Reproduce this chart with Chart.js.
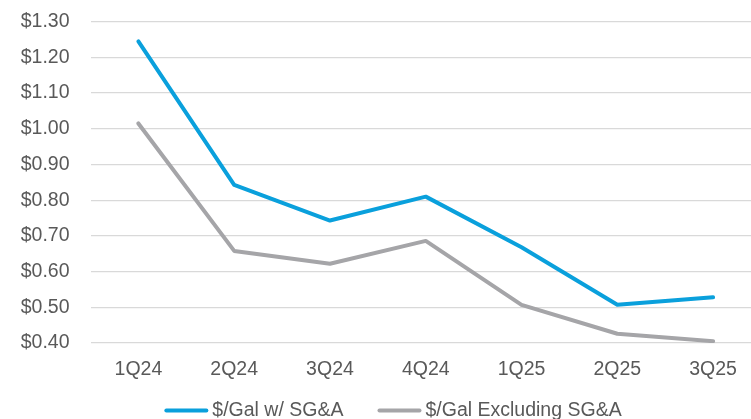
<!DOCTYPE html>
<html>
<head>
<meta charset="utf-8">
<script src="https://cdn.jsdelivr.net/npm/chart.js@4/dist/chart.umd.min.js"></script>
<style>
  html, body { margin: 0; padding: 0; background: #ffffff; overflow: hidden; }
  #wrap { position: relative; width: 762px; height: 419px; }
</style>
</head>
<body>
<div id="wrap"><canvas id="chart"></canvas></div>
<script>
// Quarterly cost per gallon
const quarters = ['1Q24', '2Q24', '3Q24', '4Q24', '1Q25', '2Q25', '3Q25'];
const perGalWithSGA = [1.245, 0.843, 0.743, 0.810, 0.668, 0.507, 0.528];
const perGalExclSGA = [1.015, 0.658, 0.622, 0.686, 0.507, 0.426, 0.405];
const seriesNames = ['$/Gal w/ SG&A', '$/Gal Excluding SG&A'];

const TEXT = '#595959';
const FONT = { family: '"Liberation Sans", Arial, sans-serif', size: 19.5 };

// Legend drawn under the axis: short thick line followed by the series name
const bottomLegend = {
  id: 'bottomLegend',
  afterDraw(chart) {
    const ctx = chart.ctx;
    const lineLen = 44, gapText = 4, gapItem = 34, y = 410.5, centerX = 393;
    ctx.save();
    ctx.font = `${FONT.size}px ${FONT.family}`;
    const items = chart.data.datasets.map(ds => ({
      label: ds.label, color: ds.borderColor, w: ctx.measureText(ds.label).width
    }));
    let total = 0;
    items.forEach((it, i) => { total += lineLen + gapText + it.w + (i ? gapItem : 0); });
    let x = centerX - total / 2;
    items.forEach((it, i) => {
      if (i) x += gapItem;
      ctx.strokeStyle = it.color;
      ctx.lineWidth = 4;
      ctx.lineCap = 'round';
      ctx.beginPath();
      ctx.moveTo(x + 2, y);
      ctx.lineTo(x + lineLen - 2, y);
      ctx.stroke();
      x += lineLen + gapText;
      ctx.fillStyle = TEXT;
      ctx.textBaseline = 'middle';
      ctx.textAlign = 'left';
      ctx.fillText(it.label, x, y);
      x += it.w;
    });
    ctx.restore();
  }
};

new Chart(document.getElementById('chart'), {
  type: 'line',
  data: {
    labels: quarters,
    datasets: [
      {
        label: seriesNames[0],
        data: perGalWithSGA,
        borderColor: '#0AA0DC',
        borderWidth: 4,
        pointRadius: 0,
        tension: 0,
        borderCapStyle: 'round',
        borderJoinStyle: 'round'
      },
      {
        label: seriesNames[1],
        data: perGalExclSGA,
        borderColor: '#A5A5A8',
        borderWidth: 4,
        pointRadius: 0,
        tension: 0,
        borderCapStyle: 'round',
        borderJoinStyle: 'round'
      }
    ]
  },
  options: {
    responsive: true,
    maintainAspectRatio: false,
    animation: false,
    layout: { padding: { top: 21.7, right: 1, bottom: 36, left: 0 } },
    plugins: {
      legend: { display: false },
      tooltip: { enabled: false }
    },
    scales: {
      x: {
        offset: true,
        grid: { display: false, drawTicks: false },
        border: { display: false },
        ticks: { color: TEXT, font: FONT, padding: 15, maxRotation: 0 },
        afterFit(scale) { scale.height = 40; }
      },
      y: {
        min: 0.4,
        max: 1.3,
        grid: { color: '#D9D9D9', lineWidth: 1.3, drawTicks: false },
        border: { display: false },
        ticks: {
          stepSize: 0.1,
          color: TEXT,
          font: FONT,
          padding: 21,
          callback: v => '$' + Number(v).toFixed(2)
        },
        afterFit(scale) {
          scale.width = 90.5;
          scale.paddingTop = 0;
          scale.paddingBottom = 0;
        }
      }
    }
  },
  plugins: [bottomLegend]
});
</script>
</body>
</html>
